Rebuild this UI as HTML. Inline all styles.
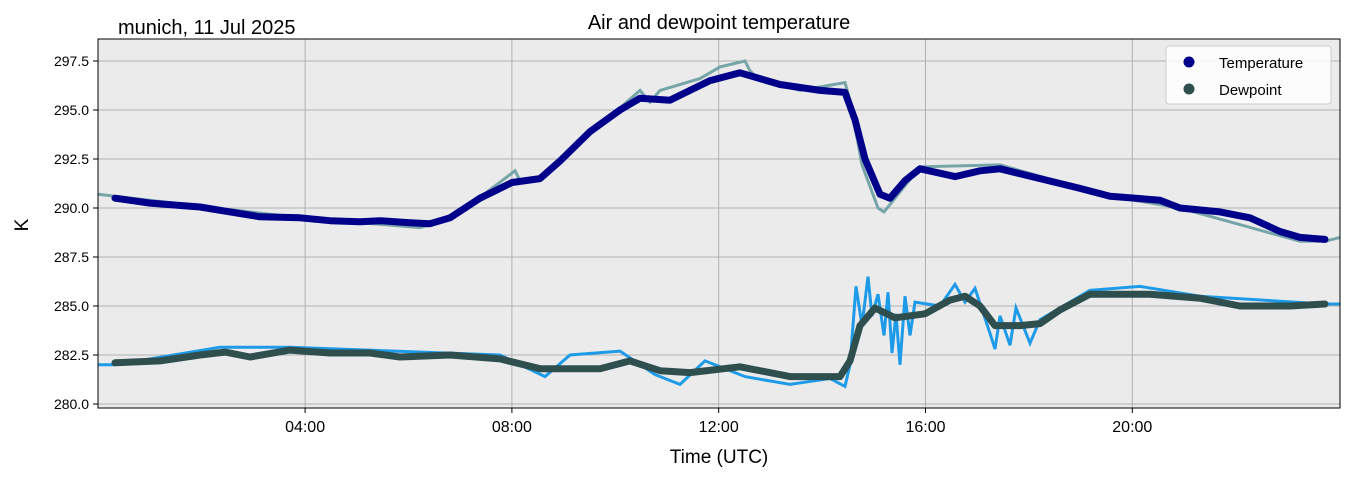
<!DOCTYPE html>
<html><head><meta charset="utf-8"><style>
html,body{margin:0;padding:0;background:#fff;}
svg{display:block;font-family:"Liberation Sans","DejaVu Sans",sans-serif;}
</style></head><body>
<svg id="chart" width="1351" height="478">
<rect x="98" y="39" width="1242" height="369" fill="#ebebeb"/>
<g id="grid"></g>
<g id="series"></g>
<rect x="98" y="39" width="1242" height="369" fill="none" stroke="#000" stroke-width="1"/>
<g id="axes"></g>
<text x="719" y="29" text-anchor="middle" font-size="20">Air and dewpoint temperature</text>
<text x="118" y="34" font-size="20">munich, 11 Jul 2025</text>
<text x="28" y="225" text-anchor="middle" font-size="19" transform="rotate(-90 28 225)">K</text>
<text x="719" y="463" text-anchor="middle" font-size="19">Time (UTC)</text>
<g>
<rect x="1166" y="46" width="165" height="58" rx="3" fill="#fff" fill-opacity="0.85" stroke="#ccc"/>
<circle cx="1189" cy="62" r="5.5" fill="#00008b"/>
<text x="1219" y="68" font-size="15">Temperature</text>
<circle cx="1189" cy="89" r="5.5" fill="#2f4f4f"/>
<text x="1219" y="95" font-size="15">Dewpoint</text>
</g>
</svg>
<script>
const yTicks=[280.0,282.5,285.0,287.5,290.0,292.5,295.0,297.5];
const xTicks=[4,8,12,16,20];
const xTickLabels=["04:00","08:00","12:00","16:00","20:00"];
const tempX=[115,150,200,230,260,300,330,360,380,410,430,450,480,512,540,560,590,620,640,670,690,710,740,780,820,845,855,865,880,890,905,920,955,980,1000,1040,1080,1110,1160,1180,1220,1250,1280,1300,1325];
const tempY=[290.5,290.25,290.05,289.8,289.55,289.5,289.35,289.3,289.35,289.25,289.2,289.5,290.5,291.3,291.5,292.4,293.9,295.0,295.6,295.5,296.0,296.5,296.9,296.3,296.0,295.9,294.5,292.5,290.7,290.5,291.4,292.0,291.6,291.9,292.0,291.5,291.0,290.6,290.4,290.0,289.8,289.5,288.8,288.5,288.4];
const tempRawX=[98,115,300,420,450,515,520,540,595,640,650,660,700,720,745,750,760,800,845,850,862,878,884,892,920,1000,1110,1180,1300,1325,1340];
const tempRawY=[290.7,290.6,289.5,289.0,289.4,291.9,291.4,291.6,294.0,296.0,295.4,296.0,296.6,297.2,297.5,297.0,296.5,296.0,296.4,295.5,292.2,290.0,289.8,290.3,292.1,292.2,290.6,290.0,288.3,288.3,288.5];
const dewX=[115,160,200,225,250,290,330,370,400,450,500,540,600,630,660,690,740,790,840,850,860,875,895,925,950,965,980,995,1020,1040,1060,1090,1150,1200,1240,1290,1325];
const dewY=[282.1,282.2,282.5,282.65,282.4,282.75,282.6,282.6,282.4,282.5,282.3,281.8,281.8,282.2,281.7,281.6,281.9,281.4,281.4,282.2,284.0,284.9,284.4,284.6,285.3,285.5,285.0,284.0,284.0,284.1,284.8,285.6,285.6,285.4,285.0,285.0,285.1];
const dewRawX=[98,115,220,290,500,545,570,620,655,680,705,745,790,830,845,850,856,862,868,872,878,884,888,892,896,900,905,910,915,940,955,965,975,990,995,1000,1010,1016,1030,1040,1090,1140,1200,1325,1340];
const dewRawY=[282.0,282.0,282.9,282.9,282.5,281.4,282.5,282.7,281.5,281.0,282.2,281.4,281.0,281.3,280.9,282.0,286.0,284.0,286.5,284.5,285.6,283.5,285.7,282.6,284.6,282.0,285.5,283.5,285.2,285.0,286.1,285.2,285.9,283.6,282.8,284.5,283.0,284.9,283.1,284.3,285.8,286.0,285.5,285.1,285.1];
const NS="http://www.w3.org/2000/svg";
const X0=98.3,PXH=51.7,Y0=404,PXK=19.6;
const hx=px=>(px-X0)/PXH;
const sx=h=>X0+h*PXH;
const sy=v=>Y0-(v-280)*PXK;
function mk(tag,attrs,parent){const e=document.createElementNS(NS,tag);for(const k in attrs)e.setAttribute(k,attrs[k]);parent.appendChild(e);return e;}
const grid=document.getElementById('grid'),axes=document.getElementById('axes'),ser=document.getElementById('series');
yTicks.forEach(v=>{
 const l=mk('line',{x1:98,x2:1340,y1:sy(v),y2:sy(v),stroke:'#b0b0b0','stroke-width':1},grid);
 
 
 mk('line',{x1:93,x2:98,y1:sy(v),y2:sy(v),stroke:'#000'},axes);
 const t=mk('text',{x:89,y:sy(v)+5,'text-anchor':'end','font-size':14},axes);
 t.textContent=v.toFixed(1);
 
 
});
xTicks.forEach((h,i)=>{
 const l=mk('line',{x1:sx(h),x2:sx(h),y1:39,y2:408,stroke:'#b0b0b0','stroke-width':1},grid);
 
 
 mk('line',{x1:sx(h),x2:sx(h),y1:408,y2:413,stroke:'#000'},axes);
 const t=mk('text',{x:sx(h),y:432,'text-anchor':'middle','font-size':16},axes);
 t.textContent=xTickLabels[i];
 
 
});
function path(xs,ys){
 const pts=xs.map((p,i)=>[sx(hx(p)),sy(ys[i])]);
 return 'M'+pts.map(p=>p[0].toFixed(1)+','+p[1].toFixed(1)).join('L');
}
const tr=mk('path',{d:path(tempRawX,tempRawY),fill:'none',stroke:'#76a5a8','stroke-width':3},ser);


const dr=mk('path',{d:path(dewRawX,dewRawY),fill:'none',stroke:'#1e9be8','stroke-width':3},ser);


const tl=mk('path',{d:path(tempX,tempY),fill:'none',stroke:'#00008b','stroke-width':7,'stroke-linecap':'round','stroke-linejoin':'round'},ser);


const dl=mk('path',{d:path(dewX,dewY),fill:'none',stroke:'#2f4f4f','stroke-width':7,'stroke-linecap':'round','stroke-linejoin':'round'},ser);


</script>
</body></html>
